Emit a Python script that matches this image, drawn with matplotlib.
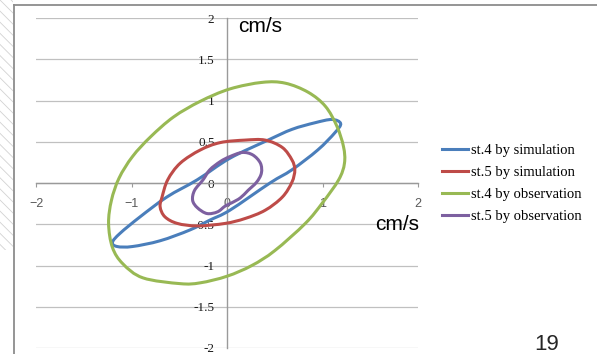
import numpy as np
import matplotlib
matplotlib.use("Agg")
import matplotlib.pyplot as plt
from matplotlib.path import Path
from matplotlib.patches import PathPatch, Rectangle
from matplotlib.lines import Line2D

# ---------------- data ----------------
series_names = ["st.4 by simulation", "st.5 by simulation",
                "st.4 by observation", "st.5 by observation"]

st4_sim_x = [-1.20, -1.12, -0.91, -0.63, -0.31, 0.03, 0.43, 0.68, 0.92, 1.10, 1.19,
             1.13, 0.95, 0.68, 0.45, 0.03, -0.18, -0.39, -0.70, -0.99, -1.15]
st4_sim_y = [-0.72, -0.61, -0.41, -0.17, 0.04, 0.30, 0.52, 0.65, 0.73, 0.77, 0.72,
             0.61, 0.40, 0.16, 0.00, -0.33, -0.45, -0.57, -0.70, -0.77, -0.77]

st5_sim_x = [0.19, 0.40, 0.58, 0.68, 0.71, 0.68, 0.58, 0.40, 0.19, -0.02,
             -0.31, -0.52, -0.65, -0.70, -0.68, -0.62, -0.49, -0.28, -0.07]
st5_sim_y = [0.52, 0.52, 0.43, 0.28, 0.16, 0.01, -0.17, -0.33, -0.43, -0.49,
             -0.52, -0.49, -0.41, -0.29, -0.17, 0.04, 0.24, 0.40, 0.49]

st4_obs_x = [0.37, 0.61, 0.85, 1.03, 1.15, 1.22, 1.23, 1.17, 1.00, 0.82, 0.50, 0.26,
             0.00, -0.28, -0.49, -0.88, -1.09, -1.20, -1.24, -1.21, -1.13, -0.99,
             -0.80, -0.56, -0.28, 0.03]
st4_obs_y = [1.22, 1.21, 1.10, 0.93, 0.69, 0.44, 0.24, 0.04, -0.24, -0.49, -0.82, -1.00,
             -1.13, -1.21, -1.22, -1.15, -0.98, -0.78, -0.49, -0.21, 0.06, 0.32,
             0.56, 0.80, 0.99, 1.14]

st5_obs_x = [0.16, 0.27, 0.35, 0.36, 0.31, 0.22, 0.14, 0.05, -0.02, -0.10, -0.21,
             -0.31, -0.36, -0.34, -0.25, -0.18, -0.07, 0.03]
st5_obs_y = [0.37, 0.34, 0.24, 0.12, 0.01, -0.09, -0.18, -0.24, -0.28, -0.35, -0.37,
             -0.30, -0.21, -0.09, 0.04, 0.16, 0.26, 0.32]

x_ticks = [-2, -1, 0, 1, 2]
x_tick_labels = ["\u22122", "\u22121", "0", "1", "2"]
y_ticks = [-2, -1.5, -1, -0.5, 0, 0.5, 1, 1.5, 2]
y_tick_labels = ["-2", "-1.5", "-1", "-0.5", "0", "0.5", "1", "1.5", "2"]

colors = ["#4A7EBB", "#BE4B48", "#98B954", "#7D60A0"]

# ---------------- figure ----------------
W, H = 597, 354
fig = plt.figure(figsize=(W / 100, H / 100), dpi=100)
fig.patch.set_facecolor("white")

ax = fig.add_axes([36 / W, 1 - 348 / H, 382 / W, 330 / H])
ax.set_xlim(-2, 2)
ax.set_ylim(-2, 2)
ax.set_facecolor("none")

for s in ["top", "right"]:
    ax.spines[s].set_visible(False)
ax.spines["left"].set_position(("data", 0))
ax.spines["bottom"].set_position(("data", 0))
for s in ["left", "bottom"]:
    ax.spines[s].set_color("#9a9a9a")
    ax.spines[s].set_linewidth(1.0)

ax.set_xticks(x_ticks)
ax.set_xticklabels(x_tick_labels, fontsize=9, family="Liberation Sans", color="#595959")
ax.set_yticks(y_ticks)
ax.set_yticklabels(y_tick_labels, fontsize=9.5, family="Liberation Serif", color="#1a1a1a")
ax.tick_params(axis="x", direction="out", length=3, color="#9a9a9a", pad=8)
ax.tick_params(axis="y", direction="out", length=0, pad=9)
ax.yaxis.grid(True, color="#c0c0c0", lw=0.9)
ax.xaxis.grid(False)
ax.set_axisbelow(True)


def smooth_closed(xs, ys):
    P = np.column_stack([xs, ys])
    n = len(P)
    verts = [P[0]]
    codes = [Path.MOVETO]
    for i in range(n):
        p0, p1, p2, p3 = P[i - 1], P[i], P[(i + 1) % n], P[(i + 2) % n]
        c1 = p1 + (p2 - p0) / 6.0
        c2 = p2 - (p3 - p1) / 6.0
        verts += [c1, c2, p2]
        codes += [Path.CURVE4] * 3
    return Path(np.array(verts), codes)


series = [(st4_sim_x, st4_sim_y), (st5_sim_x, st5_sim_y),
          (st4_obs_x, st4_obs_y), (st5_obs_x, st5_obs_y)]
handles = []
for (xs, ys), c, name in zip(series, colors, series_names):
    patch = PathPatch(smooth_closed(xs, ys), fill=False, edgecolor=c, lw=2.2,
                      transform=ax.transData, zorder=3)
    ax.add_patch(patch)
    handles.append(Line2D([], [], color=c, lw=2.2, label=name))

fig.legend(handles=handles, loc="center left",
           bbox_to_anchor=(442 / W, 1 - 183.5 / H), frameon=False,
           prop={"family": "Liberation Serif", "size": 10.5},
           handlelength=1.8, handletextpad=0.2, labelspacing=0.6,
           borderpad=0, borderaxespad=0)

# ---------------- slide decoration ----------------
plt.rcParams["hatch.linewidth"] = 0.6
fig.add_artist(Rectangle((0, 1 - 250 / H), 13 / W, 250 / H, transform=fig.transFigure,
                         facecolor="none", edgecolor="#d2d2d2", hatch="\\\\\\",
                         lw=0))
fig.add_artist(Line2D([14 / W, 14 / W], [0, 1 - 5 / H], transform=fig.transFigure,
                      color="#8c8c8c", lw=1.3))
fig.add_artist(Line2D([14 / W, 1], [1 - 5 / H, 1 - 5 / H], transform=fig.transFigure,
                      color="#8c8c8c", lw=1.3))

fig.text(238 / W, 1 - 27 / H, "cm/s", fontsize=15, family="Liberation Sans",
         ha="left", va="center", color="black")
fig.text(375 / W, 1 - 224 / H, "cm/s", fontsize=15, family="Liberation Sans",
         ha="left", va="center", color="black")
fig.text(547 / W, 1 - 344 / H, "19", fontsize=16, family="Liberation Sans",
         ha="center", va="center", color="#262626")

fig.savefig("out.png", dpi=100)
